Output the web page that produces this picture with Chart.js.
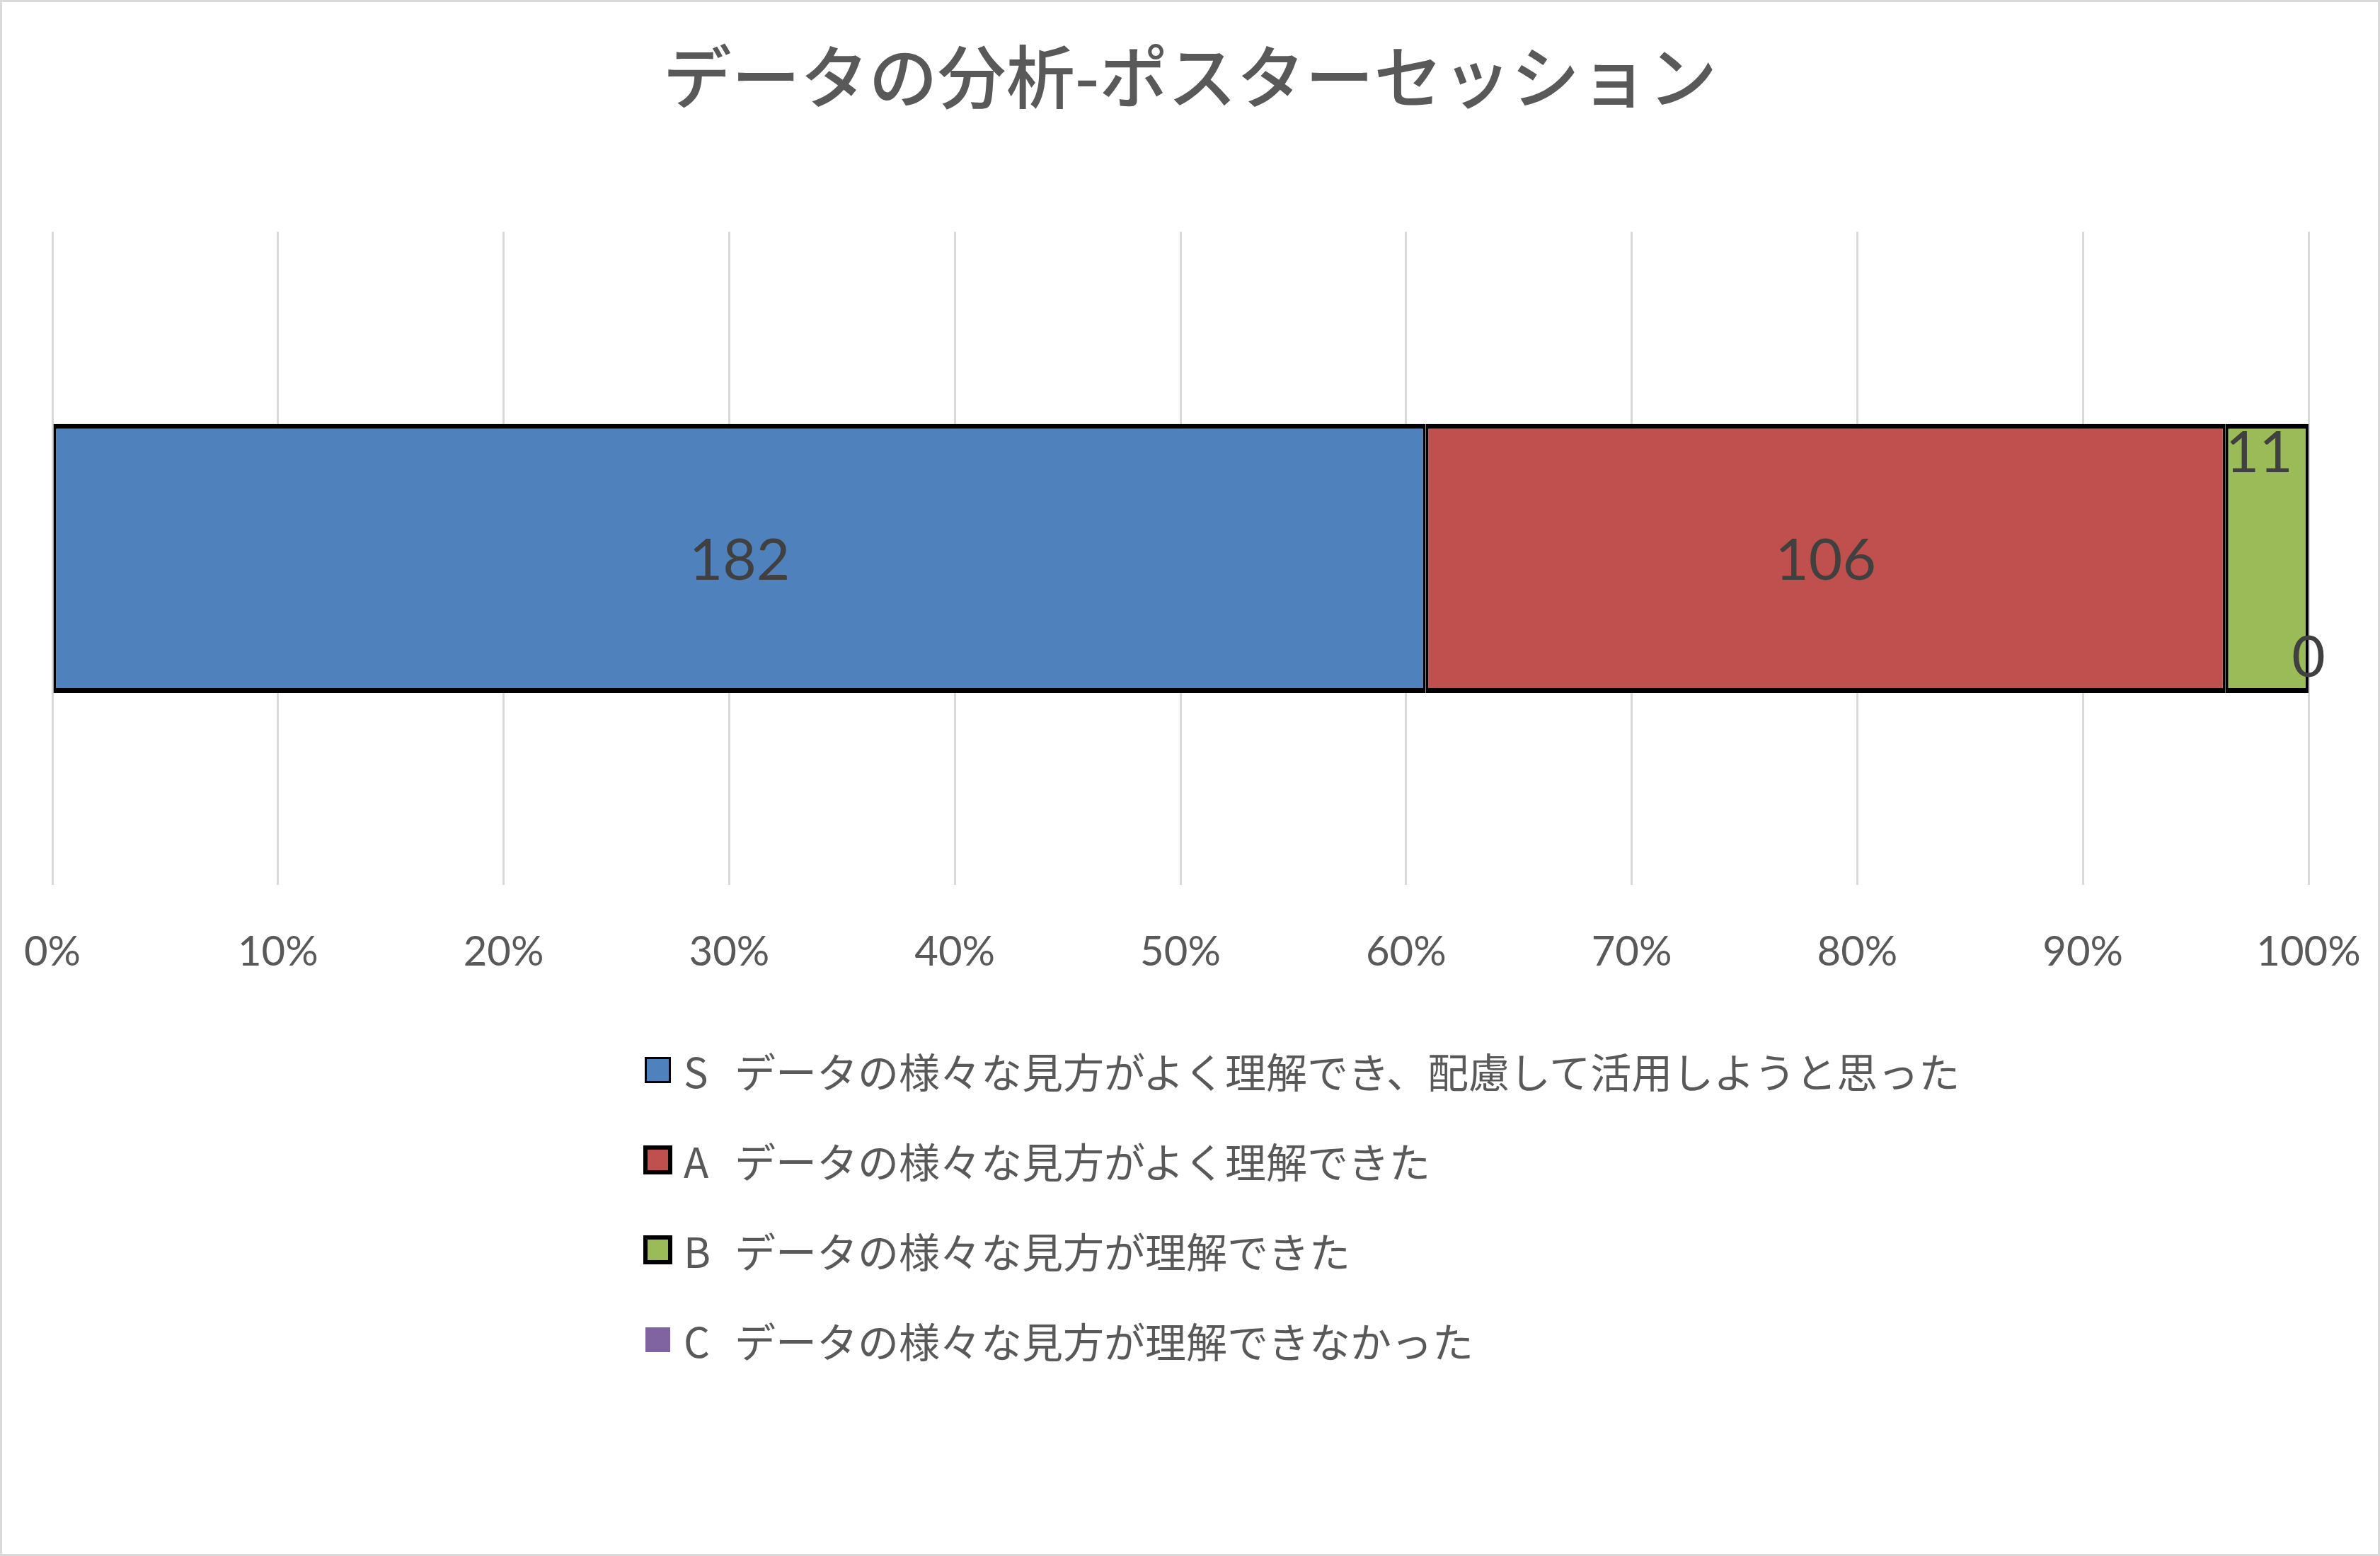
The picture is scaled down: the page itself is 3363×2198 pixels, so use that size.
<!DOCTYPE html>
<html lang="ja">
<head>
<meta charset="utf-8">
<script src="https://cdn.jsdelivr.net/npm/chart.js@4.4.1/dist/chart.umd.min.js"></script>
<style>
  html,body{margin:0;padding:0;background:#fff}
  #wrap{position:relative;width:3363px;height:2198px;background:#fff;overflow:hidden}
  #chartBox{position:absolute;left:0;top:0;width:3363px;height:2198px}
  #frame{position:absolute;left:0;top:0;right:0;bottom:0;border:3px solid #d9d9d9;pointer-events:none}
  #legend{position:absolute;left:909px;top:1448px;font-family:'Noto Sans CJK JP',sans-serif;font-size:58px;color:#595959}
  .lg-row{display:flex;align-items:center;height:127px;white-space:nowrap}
  .lg-slot{width:41px;height:41px;display:flex;align-items:center;justify-content:center;margin-right:16px;flex-shrink:0}
  .lg-box{box-sizing:border-box;border-style:solid;border-color:#000}
  .lg-code{display:inline-block;width:72px}
</style>
</head>
<body>
<div id="wrap">
  <div id="chartBox"><canvas id="posterChart"></canvas></div>
  <div id="legend"></div>
  <div id="frame"></div>
</div>
<script>
/* ── DATA ────────────────────────────────────────────────── */
const categories   = ['回答'];
const seriesCodes  = ['S', 'A', 'B', 'C'];
const seriesTexts  = [
  'データの様々な見方がよく理解でき、配慮して活用しようと思った',
  'データの様々な見方がよく理解できた',
  'データの様々な見方が理解できた',
  'データの様々な見方が理解できなかった'
];
const seriesCounts = [182, 106, 11, 0];
const seriesColors = ['#4F81BD', '#C0504D', '#9BBB59', '#8064A2'];
const xTickStep    = 10;

/* ── STYLES ──────────────────────────────────────────────── */
const segBorder     = {top:7, bottom:7, left:4, right:4};
const barBorders    = [segBorder, segBorder, segBorder, 0];
const legendBorders = [3, 6, 6, 0];
const legendSizes   = [37, 41, 41, 35];

const total = seriesCounts.reduce((a, b) => a + b, 0);

/* ── DATA LABELS (counts on the 100% bar) ────────────────── */
const barLabels = {
  id: 'barLabels',
  afterDatasetsDraw(chart){
    const ctx = chart.ctx;
    ctx.save();
    ctx.font = '82px Lato';
    ctx.fillStyle = '#404040';
    ctx.textBaseline = 'middle';
    chart.data.datasets.forEach((ds, i) => {
      chart.getDatasetMeta(i).data.forEach((bar, j) => {
        const n = ds.counts[j];
        const txt = String(n);
        const {x, y, base, height} = bar.getProps(['x', 'y', 'base', 'height'], true);
        const w = x - base;
        const tw = ctx.measureText(txt).width;
        if (n === 0){
          ctx.textAlign = 'center';
          ctx.fillText(txt, x, y + height * 0.37);
        } else if (tw * 1.5 > w){
          ctx.textAlign = 'left';
          ctx.fillText(txt, base, y - height * 0.39);
        } else {
          ctx.textAlign = 'center';
          ctx.fillText(txt, (x + base) / 2, y + 4);
        }
      });
    });
    ctx.restore();
  }
};

/* ── CHART ───────────────────────────────────────────────── */
new Chart(document.getElementById('posterChart'), {
  type: 'bar',
  data: {
    labels: categories,
    datasets: seriesCodes.map((code, i) => ({
      label: code + '　' + seriesTexts[i],
      data: [seriesCounts[i] / total * 100],
      counts: [seriesCounts[i]],
      backgroundColor: seriesColors[i],
      borderColor: '#000',
      borderWidth: barBorders[i],
      borderSkipped: false,
      categoryPercentage: 1,
      barPercentage: 0.412
    }))
  },
  options: {
    indexAxis: 'y',
    responsive: true, maintainAspectRatio: false, animation: false,
    layout: { padding: { left: 74, right: 74, top: 0, bottom: 818 } },
    plugins: {
      legend: { display: false },
      tooltip: { enabled: false },
      title: {
        display: true,
        text: 'データの分析-ポスターセッション',
        color: '#595959',
        font: { family: "'Noto Sans CJK JP'", size: 97, weight: 500, lineHeight: 1.2 },
        padding: { top: 50, bottom: 161 }
      }
    },
    scales: {
      x: {
        stacked: true, min: 0, max: 100,
        ticks: { stepSize: xTickStep, callback: v => v + '%', color: '#595959', font: { family: 'Lato', size: 58, lineHeight: 1.2 }, padding: 0, maxRotation: 0, autoSkip: false },
        grid: { color: '#d9d9d9', lineWidth: 3, drawTicks: true, tickLength: 60, tickColor: 'rgba(0,0,0,0)' },
        border: { display: false }
      },
      y: {
        stacked: true, position: 'right',
        ticks: { display: false }, grid: { display: false }, border: { display: false },
        afterFit(scale){ scale.width = 27; }
      }
    }
  },
  plugins: [barLabels]
});

/* ── LEGEND ──────────────────────────────────────────────── */
const legendEl = document.getElementById('legend');
legendEl.innerHTML = seriesCodes.map((code, i) => `
  <div class="lg-row">
    <div class="lg-slot"><div class="lg-box" style="width:${legendSizes[i]}px;height:${legendSizes[i]}px;background:${seriesColors[i]};border-width:${legendBorders[i]}px"></div></div>
    <span class="lg-code">${code}</span><span>${seriesTexts[i]}</span>
  </div>`).join('');
</script>
</body>
</html>
